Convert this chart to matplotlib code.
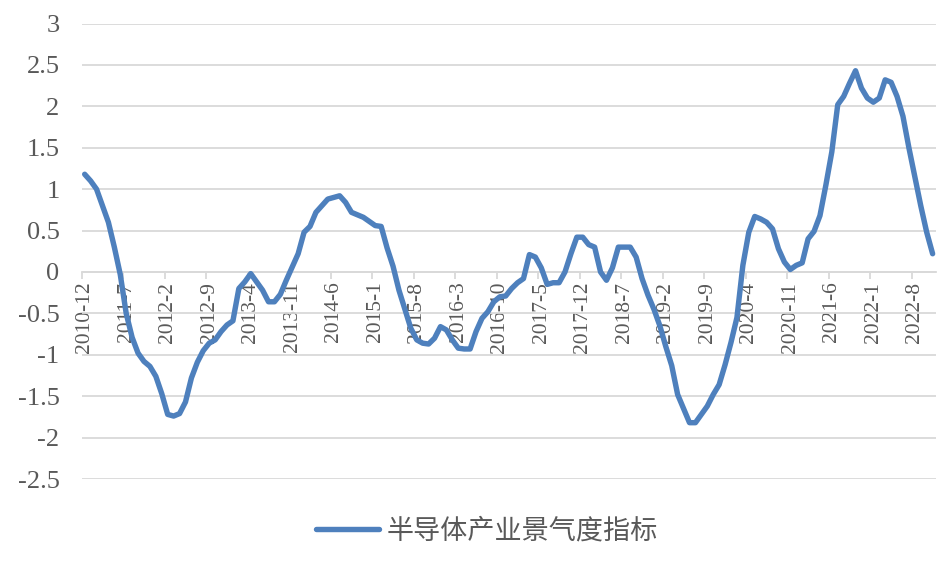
import matplotlib
matplotlib.use('Agg')
import matplotlib.pyplot as plt
import numpy as np

plt.rcParams['axes.unicode_minus'] = False

# monthly data, 2010-12 .. 2022-11
start_year, start_month = 2010, 12
values = [
    1.18, 1.10, 1.00, 0.80, 0.60, 0.30, -0.03, -0.50, -0.79, -0.98,
    -1.08, -1.14, -1.26, -1.47, -1.72, -1.74, -1.71, -1.57, -1.28, -1.09,
    -0.95, -0.86, -0.82, -0.72, -0.64, -0.59, -0.20, -0.12, -0.02, -0.12,
    -0.22, -0.36, -0.36, -0.27, -0.10, 0.06, 0.22, 0.48, 0.55, 0.72,
    0.80, 0.88, 0.90, 0.92, 0.84, 0.72, 0.69, 0.66, 0.61, 0.56,
    0.55, 0.29, 0.07, -0.22, -0.45, -0.68, -0.82, -0.86, -0.87, -0.80,
    -0.66, -0.70, -0.82, -0.92, -0.93, -0.93, -0.72, -0.56, -0.48, -0.36,
    -0.30, -0.29, -0.20, -0.13, -0.08, 0.21, 0.18, 0.05, -0.15, -0.13,
    -0.13, 0.00, 0.22, 0.42, 0.42, 0.33, 0.30, 0.00, -0.10, 0.05,
    0.30, 0.30, 0.30, 0.18, -0.08, -0.28, -0.45, -0.65, -0.90, -1.13,
    -1.48, -1.65, -1.82, -1.82, -1.72, -1.62, -1.48, -1.36, -1.12, -0.85,
    -0.55, 0.08, 0.48, 0.67, 0.64, 0.60, 0.52, 0.28, 0.12, 0.03,
    0.08, 0.11, 0.40, 0.49, 0.68, 1.05, 1.45, 2.02, 2.12, 2.28,
    2.43, 2.22, 2.10, 2.05, 2.10, 2.32, 2.29, 2.12, 1.88, 1.50,
    1.15, 0.80, 0.48, 0.22,
]
months = []
for i in range(len(values)):
    m = start_month - 1 + i
    months.append(f'{start_year + m // 12}-{m % 12 + 1}')

y_ticks = [3, 2.5, 2, 1.5, 1, 0.5, 0, -0.5, -1, -1.5, -2, -2.5]
y_labels = ['3', '2.5', '2', '1.5', '1', '0.5', '0', '-0.5', '-1', '-1.5', '-2', '-2.5']
series_name = '半导体产业景气度指标'

grey = '#595959'
blue = '#4E80BD'

fig = plt.figure(figsize=(9.48, 5.64), dpi=100)
ax = fig.add_axes([0.0862, 0.1507, 0.9007, 0.8076])

x = np.arange(len(values))
line, = ax.plot(x, values, color=blue, linewidth=3.9, solid_joinstyle='round',
                solid_capstyle='round', label=series_name, zorder=3)

ax.set_xlim(-0.5, len(values) - 0.5)
ax.set_ylim(-2.5, 3)
ax.set_yticks(y_ticks)
ax.set_yticklabels(y_labels, fontfamily='Liberation Serif', fontsize=19, color=grey)
ax.tick_params(axis='y', length=0, pad=16)
ax.grid(axis='y', color='#D9D9D9', linewidth=1.3, zorder=0)

for s in ['left', 'right', 'top']:
    ax.spines[s].set_visible(False)
ax.spines['bottom'].set_position(('data', 0))
ax.spines['bottom'].set_color('#D9D9D9')
ax.spines['bottom'].set_linewidth(1.3)

# tick marks between categories, labels centred on categories
ax.set_xticks(np.arange(-0.5, len(values) - 1, 7))
ax.set_xticklabels([])
ax.tick_params(axis='x', which='major', length=5, width=1.3, color='#D9D9D9', direction='out')
ax.set_xticks(x[::7], minor=True)
ax.set_xticklabels(months[::7], minor=True, rotation=90, fontfamily='Liberation Serif',
                   fontsize=15.5, color=grey)
ax.tick_params(axis='x', which='minor', length=0, pad=7)

fig.legend(handles=[line], labels=[series_name], loc='center',
           bbox_to_anchor=(0.514, 1 - 531 / 564), frameon=False, handlelength=2.3,
           handletextpad=0.3,
           prop={'family': ['Noto Sans CJK SC'], 'size': 19.5, 'weight': 'light'},
           labelcolor=grey)

fig.savefig('out.png', dpi=100)
